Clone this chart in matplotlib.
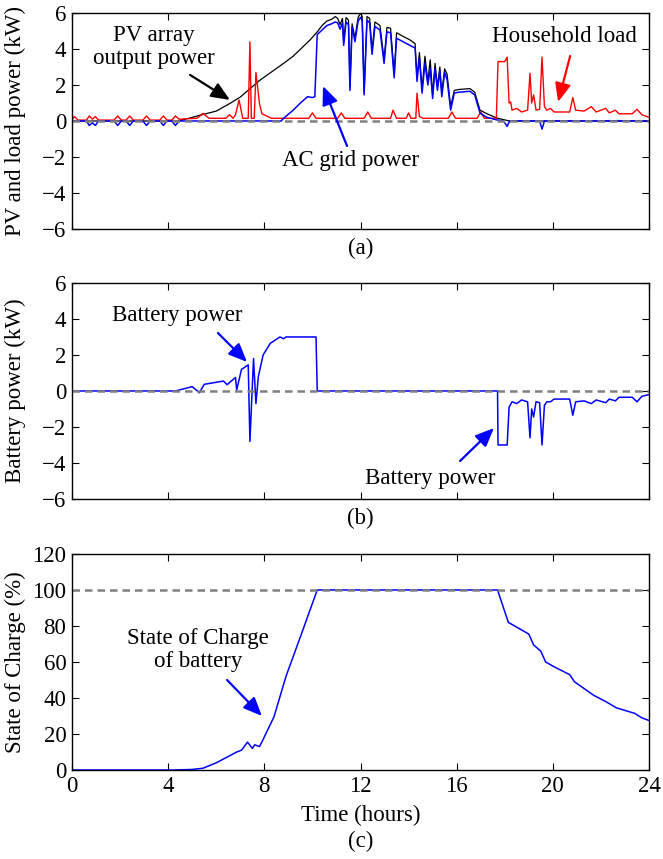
import numpy as np
import matplotlib
matplotlib.use("Agg")
import matplotlib.pyplot as plt

# ---- data (time in hours, value) ----
pv_power = [(0, 0), (4.4, 0), (5.0, 0.2), (5.5, 0.38), (6.0, 0.55), (6.6, 1.0), (7.0, 1.33),
            (7.8, 2.25), (8.8, 3.2), (9.2, 3.6), (9.9, 4.5), (10.2, 4.95), (10.4, 5.3), (10.6, 5.55),
            (10.8, 5.65), (10.95, 5.8), (11.05, 5.7), (11.15, 5.35), (11.25, 5.7), (11.3, 4.4),
            (11.4, 5.75), (11.5, 5.6), (11.56, 1.9), (11.65, 5.4), (11.77, 4.6), (11.9, 5.75),
            (12.0, 6.0), (12.07, 5.8), (12.15, 1.65), (12.27, 5.8), (12.38, 5.7), (12.48, 3.9),
            (12.6, 5.5), (12.81, 5.3), (12.98, 3.4), (13.1, 5.2), (13.25, 5.15), (13.4, 2.6),
            (13.5, 4.9), (13.77, 4.7), (14.06, 4.5), (14.27, 4.3), (14.35, 2.4), (14.45, 3.8),
            (14.56, 1.75), (14.68, 3.6), (14.8, 2.2), (14.9, 3.4), (15.0, 1.45), (15.1, 3.2),
            (15.2, 1.9), (15.3, 3.0), (15.38, 1.55), (15.5, 2.9), (15.6, 2.6), (15.75, 0.8),
            (15.9, 1.7), (16.1, 1.75), (16.55, 1.8), (16.75, 1.6), (16.97, 0.6), (17.26, 0.4),
            (17.7, 0.15), (18.2, 0), (24, 0)]

grid_power = [(0, 0), (0.6, 0), (0.72, -0.25), (0.85, -0.1), (0.97, -0.25), (1.1, 0), (1.75, 0),
              (1.9, -0.25), (2.05, 0), (2.25, 0), (2.4, -0.25), (2.55, 0), (2.95, 0), (3.1, -0.25),
              (3.25, 0), (3.65, 0), (3.8, -0.25), (3.95, 0), (4.15, 0), (4.3, -0.25), (4.45, 0),
              (8.7, 0), (8.8, 0.15), (9.2, 0.6), (9.5, 1.0), (9.8, 1.35), (10.0, 1.3), (10.1, 1.35),
              (10.2, 4.8), (10.4, 5.05), (10.6, 5.3), (10.8, 5.4), (10.95, 5.5), (11.05, 5.45),
              (11.15, 5.1), (11.25, 5.45), (11.3, 4.2), (11.4, 5.5), (11.5, 5.35), (11.56, 1.7),
              (11.65, 5.2), (11.77, 4.4), (11.9, 5.55), (12.0, 5.75), (12.07, 5.6), (12.15, 1.45),
              (12.27, 5.6), (12.38, 5.45), (12.48, 3.7), (12.6, 5.25), (12.81, 5.05), (12.98, 3.2),
              (13.1, 4.95), (13.25, 4.9), (13.4, 2.4), (13.5, 4.6), (13.77, 4.4), (14.06, 4.2),
              (14.27, 4.05), (14.35, 2.2), (14.45, 3.5), (14.56, 1.55), (14.68, 3.2), (14.8, 2.0),
              (14.9, 2.9), (15.0, 1.25), (15.1, 2.9), (15.2, 1.7), (15.3, 2.8), (15.38, 1.35),
              (15.5, 2.7), (15.6, 2.3), (15.75, 0.6), (15.9, 1.55), (16.1, 1.6), (16.55, 1.65),
              (16.75, 1.45), (16.97, 0.44), (17.26, 0.2), (17.7, 0.05), (17.95, 0), (18.1, -0.3),
              (18.2, 0), (19.45, 0), (19.55, -0.45), (19.65, 0), (24, 0)]

household_load = [(0, 0.05), (0.1, 0.25), (0.25, 0.05), (0.6, 0.05), (0.72, 0.28), (0.85, 0.1),
                  (0.97, 0.25), (1.1, 0.05), (1.75, 0.05), (1.9, 0.28), (2.05, 0.05), (2.25, 0.05),
                  (2.4, 0.28), (2.55, 0.05), (2.95, 0.05), (3.1, 0.28), (3.25, 0.05), (3.65, 0.05),
                  (3.8, 0.28), (3.95, 0.05), (4.15, 0.05), (4.3, 0.28), (4.45, 0.1), (5.2, 0.15),
                  (5.45, 0.42), (5.7, 0.15), (6.4, 0.15), (6.55, 0.35), (6.7, 0.15), (6.8, 0.35),
                  (6.95, 1.17), (7.1, 0.15), (7.33, 0.15), (7.4, 4.4), (7.46, 0.15), (7.58, 0.15),
                  (7.65, 2.7), (7.8, 0.95), (7.9, 0.4), (8.3, 0.15), (9.85, 0.15), (10.0, 0.45),
                  (10.15, 0.15), (11.05, 0.15), (11.2, 0.45), (11.35, 0.15), (12.15, 0.15),
                  (12.3, 0.5), (12.45, 0.15), (13.25, 0.15), (13.35, 0.6), (13.5, 0.15), (13.9, 0.15),
                  (14.0, 0.45), (14.1, 0.15), (14.3, 0.15), (14.35, 1.55), (14.45, 0.25), (14.6, 0.15),
                  (15.65, 0.15), (15.8, 0.5), (15.95, 0.15), (16.85, 0.15), (17.0, 0.5), (17.15, 0.15),
                  (17.65, 0.15), (17.72, 3.3), (18.0, 3.3), (18.1, 3.55), (18.18, 1.0), (18.25, 1.05),
                  (18.3, 0.6), (18.5, 0.7), (18.7, 0.5), (18.95, 0.6), (19.05, 2.65), (19.12, 1.0),
                  (19.2, 1.45), (19.3, 0.6), (19.45, 0.65), (19.55, 3.55), (19.65, 0.8), (19.75, 0.6),
                  (19.9, 0.7), (20.05, 0.5), (20.7, 0.5), (20.83, 1.3), (20.95, 0.6), (21.3, 0.55),
                  (21.6, 0.8), (21.8, 0.5), (22.2, 0.7), (22.35, 0.45), (22.6, 0.6), (22.75, 0.4),
                  (23.3, 0.4), (23.5, 0.65), (23.7, 0.35), (24, 0.2)]

battery_power = [(0, 0), (4.3, 0), (5.0, 0.24), (5.3, -0.1), (5.5, 0.37), (6.3, 0.55), (6.45, 0.35),
                 (6.8, 0.75), (6.85, 0.05), (7.05, 1.2), (7.33, 1.45), (7.4, -2.8), (7.55, 1.8),
                 (7.65, -0.7), (7.75, 0.8), (7.95, 2.0), (8.25, 2.65), (8.65, 3.0), (8.8, 2.9),
                 (8.9, 3.0), (10.15, 3.0), (10.2, 0), (17.7, 0), (17.72, -3.0), (18.1, -3.0),
                 (18.18, -0.9), (18.3, -0.6), (18.5, -0.7), (18.7, -0.5), (18.95, -0.6), (19.05, -2.6),
                 (19.12, -1.0), (19.2, -1.45), (19.3, -0.6), (19.45, -0.65), (19.55, -3.0),
                 (19.65, -0.8), (19.75, -0.6), (19.9, -0.6), (20.05, -0.45), (20.7, -0.45),
                 (20.83, -1.35), (20.95, -0.6), (21.3, -0.55), (21.6, -0.7), (21.8, -0.5),
                 (22.2, -0.65), (22.35, -0.45), (22.6, -0.55), (22.75, -0.35), (23.3, -0.35),
                 (23.5, -0.6), (23.7, -0.3), (24, -0.2)]

soc = [(0, 0), (4.2, 0), (5.0, 0.3), (5.45, 1), (6.0, 4), (6.5, 7.5), (6.85, 10), (7.05, 11),
       (7.3, 15.5), (7.5, 12), (7.6, 14), (7.8, 13), (7.95, 17), (8.2, 24), (8.4, 29.5), (8.9, 52),
       (9.5, 74), (10.2, 100), (17.7, 100), (18.15, 82), (19.0, 75.5), (19.2, 69.5), (19.5, 66),
       (19.7, 60), (20.1, 57), (20.7, 53), (20.9, 49), (21.7, 41.5), (22.2, 38), (22.65, 34.5),
       (23.4, 31.5), (23.7, 29), (24, 27.5)]

x_ticks = [0, 4, 8, 12, 16, 20, 24]
power_ticks = [-6, -4, -2, 0, 2, 4, 6]
soc_ticks = [0, 20, 40, 60, 80, 100, 120]

plt.rcParams["font.family"] = ["Liberation Serif", "DejaVu Serif"]
plt.rcParams["font.size"] = 16.5
plt.rcParams["mathtext.fontset"] = "stix"

FS = 16.5
BLUE = "#0000ff"
RED = "#ff0000"
GRAY = "#808080"


def xy(pairs):
    a = np.array(pairs, dtype=float)
    return a[:, 0], a[:, 1]


def style(ax, yticks, show_x):
    ax.set_xlim(0, 24)
    ax.set_xticks(x_ticks)
    ax.set_ylim(yticks[0], yticks[-1])
    ax.set_yticks(yticks)
    ax.tick_params(direction="in", top=True, right=True, length=5, width=0.8,
                   labelsize=FS, pad=4)
    if not show_x:
        ax.set_xticklabels([])
    for s in ax.spines.values():
        s.set_linewidth(1.0)


def arrow(ax, tail, head, color):
    ax.annotate("", xy=head, xytext=tail,
                arrowprops=dict(arrowstyle="-|>,head_length=0.75,head_width=0.32",
                                color=color, lw=1.6, mutation_scale=15,
                                shrinkA=0, shrinkB=0))


fig = plt.figure(figsize=(6.63, 8.59), dpi=100)
ax_a = fig.add_axes([0.1086, 0.7334, 0.8703, 0.2515])
ax_b = fig.add_axes([0.1086, 0.4191, 0.8703, 0.2515])
ax_c = fig.add_axes([0.1086, 0.1036, 0.8703, 0.2515])

# (a) PV and load power
t, v = xy(pv_power)
ax_a.plot(t, v, color="black", lw=0.9)
t, v = xy(household_load)
ax_a.plot(t, v, color=RED, lw=1.0)
t, v = xy(grid_power)
ax_a.plot(t, v, color=BLUE, lw=1.1)
ax_a.axhline(0, color=GRAY, lw=1.8, dashes=(3, 2))
style(ax_a, power_ticks, False)
ax_a.text(3.41, 4.1, "PV array\noutput power", ha="center", va="center", fontsize=FS,
          linespacing=1.15)
arrow(ax_a, (4.91, 2.56), (6.57, 1.17), "black")
ax_a.text(11.6, -2.17, "AC grid power", ha="center", va="center", fontsize=FS)
arrow(ax_a, (11.44, -1.39), (10.44, 1.94), BLUE)
ax_a.text(20.5, 4.67, "Household load", ha="center", va="center", fontsize=FS)
arrow(ax_a, (20.72, 3.61), (20.22, 1.06), RED)

# (b) battery power
t, v = xy(battery_power)
ax_b.plot(t, v, color=BLUE, lw=1.1)
ax_b.axhline(0, color=GRAY, lw=1.8, dashes=(3, 2))
style(ax_b, power_ticks, False)
ax_b.text(4.37, 4.2, "Battery power", ha="center", va="center", fontsize=FS)
arrow(ax_b, (6.07, 3.22), (7.28, 1.61), BLUE)
ax_b.text(14.9, -4.85, "Battery power", ha="center", va="center", fontsize=FS)
arrow(ax_b, (16.14, -3.89), (17.55, -2.06), BLUE)

# (c) state of charge
t, v = xy(soc)
ax_c.plot(t, v, color=BLUE, lw=1.1)
ax_c.axhline(100, color=GRAY, lw=1.8, dashes=(3, 2))
style(ax_c, soc_ticks, True)
ax_c.text(5.24, 66.7, "State of Charge\nof battery", ha="center", va="center", fontsize=FS,
          linespacing=1.15)
arrow(ax_c, (6.45, 50), (7.9, 30), BLUE)

# labels
fig.text(0.0226, 0.859, "PV and load power (kW)", rotation=90, ha="center", va="center", fontsize=FS)
fig.text(0.0226, 0.545, "Battery power (kW)", rotation=90, ha="center", va="center", fontsize=FS)
fig.text(0.0226, 0.229, "State of Charge (%)", rotation=90, ha="center", va="center", fontsize=FS)
fig.text(0.5437, 0.711, "(a)", ha="center", va="center", fontsize=FS)
fig.text(0.5437, 0.397, "(b)", ha="center", va="center", fontsize=FS)
fig.text(0.5437, 0.0512, "Time (hours)", ha="center", va="center", fontsize=FS)
fig.text(0.5437, 0.020, "(c)", ha="center", va="center", fontsize=FS)

fig.savefig("out.png", dpi=100)
